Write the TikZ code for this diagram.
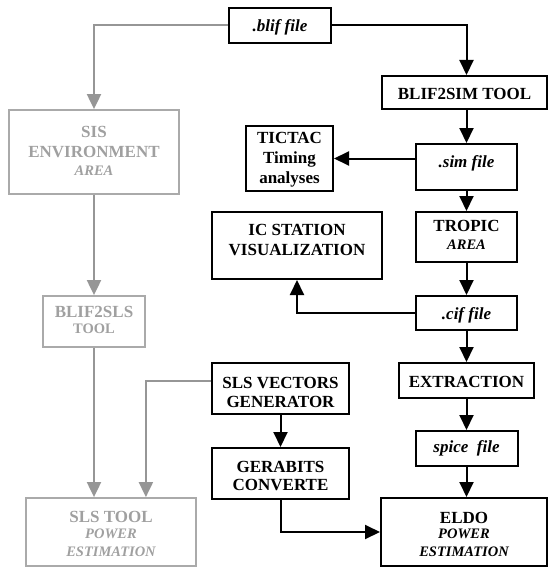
\documentclass[tikz,border=0pt]{standalone}
\usepackage{fontspec}
\setmainfont{Liberation Serif}
\usetikzlibrary{arrows.meta}
\definecolor{lgray}{RGB}{150,150,150}
\definecolor{bgray}{RGB}{170,170,170}
\definecolor{tgray}{RGB}{160,160,160}
\begin{document}
\begin{tikzpicture}[x=1pt,y=-1pt,
  bbox/.style={draw=black,line width=2pt,inner sep=0pt},
  gbox/.style={draw=bgray,line width=1.8pt,inner sep=0pt},
  big/.style={font=\fontsize{17}{20}\selectfont\bfseries,inner sep=0pt,anchor=base},
  sub/.style={font=\fontsize{14.5}{17}\selectfont\bfseries\itshape,inner sep=0pt,anchor=base},
  subup/.style={font=\fontsize{14.5}{17}\selectfont\bfseries,inner sep=0pt,anchor=base},
  fil/.style={font=\fontsize{17}{20}\selectfont\bfseries\itshape,inner sep=0pt,anchor=base},
  gt/.style={text=tgray},
  barr/.style={draw=black,line width=2pt,-{Triangle[length=15pt,width=14pt]}},
  garr/.style={draw=lgray,line width=2pt,-{Triangle[length=15pt,width=14pt]}},
  bline/.style={draw=black,line width=2pt}
]
\useasboundingbox (0,0) rectangle (548,567);
% boxes
\node[bbox,minimum width=102pt,minimum height=35pt] (blif) at (280,25.5) {};
\node[gbox,minimum width=170pt,minimum height=84pt] (sis) at (94,152) {};
\node[bbox,minimum width=165pt,minimum height=33pt] (b2sim) at (464.5,92.5) {};
\node[bbox,minimum width=101pt,minimum height=46pt] (sim) at (466.5,167) {};
\node[bbox,minimum width=87pt,minimum height=65pt] (tictac) at (289.5,158.5) {};
\node[bbox,minimum width=170pt,minimum height=67pt] (ic) at (297,245.5) {};
\node[bbox,minimum width=101pt,minimum height=50pt] (tropic) at (466.5,237) {};
\node[bbox,minimum width=101pt,minimum height=34pt] (cif) at (466.5,313) {};
\node[gbox,minimum width=102pt,minimum height=51pt] (b2sls) at (94,321.5) {};
\node[bbox,minimum width=137pt,minimum height=51pt] (slsvg) at (280.5,388.5) {};
\node[bbox,minimum width=135pt,minimum height=35pt] (extr) at (466.5,380.5) {};
\node[bbox,minimum width=102pt,minimum height=35pt] (spice) at (466.5,448.5) {};
\node[bbox,minimum width=137pt,minimum height=51pt] (gerab) at (280.5,473.5) {};
\node[bbox,minimum width=166pt,minimum height=68pt] (eldo) at (464,532) {};
\node[gbox,minimum width=170pt,minimum height=68pt] (slstool) at (111,532) {};
% texts
\node[fil] (tblif) at (280,32) {.blif file};
\node[big,gt] (tsis1) at (94,137) {SIS};
\node[big,gt] (tsis2) at (94,157) {ENVIRONMENT};
\node[sub,gt] (tsis3) at (94,175) {AREA};
\node[big] (tb2sim) at (464.5,100) {BLIF2SIM TOOL};
\node[fil] (tsim) at (466.5,167) {.sim file};
\node[big] (ttic1) at (289.5,143) {TICTAC};
\node[big] (ttic2) at (289.5,163) {Timing};
\node[big] (ttic3) at (289.5,183) {analyses};
\node[big] (tic1) at (297,235) {IC STATION};
\node[big] (tic2) at (297,255) {VISUALIZATION};
\node[big] (ttro1) at (466.5,231) {TROPIC};
\node[sub] (ttro2) at (466.5,249) {AREA};
\node[fil] (tcif) at (466.5,319) {.cif file};
\node[big,gt] (tbs1) at (94,317) {BLIF2SLS};
\node[subup,gt] (tbs2) at (94,333) {TOOL};
\node[big] (tvg1) at (280.5,388) {SLS VECTORS};
\node[big] (tvg2) at (280.5,407) {GENERATOR};
\node[big] (tex) at (466.5,387) {EXTRACTION};
\node[fil] (tsp) at (466.5,452) {spice\ \ file};
\node[big] (tge1) at (280.5,472) {GERABITS};
\node[big] (tge2) at (280.5,490) {CONVERTE};
\node[big] (tel1) at (464,523) {ELDO};
\node[sub] (tel2) at (464,538.5) {POWER};
\node[sub] (tel3) at (464,556) {ESTIMATION};
\node[big,gt] (tst1) at (111,522) {SLS TOOL};
\node[sub,gt] (tst2) at (111,538.5) {POWER};
\node[sub,gt] (tst3) at (111,556) {ESTIMATION};
% connectors
\draw[garr] (blif.west) -| (sis.north);
\draw[barr] (blif.east) -| (b2sim.north -| sim.north);
\draw[barr] (b2sim.south -| sim.north) -- (sim.north);
\draw[barr] (sim.west |- tictac.east) -- (tictac.east);
\draw[barr] (sim.south) -- (tropic.north);
\draw[barr] (tropic.south) -- (cif.north);
\draw[barr] (cif.west) -| (ic.south);
\draw[barr] (cif.south) -- (extr.north);
\draw[barr] (extr.south) -- (spice.north);
\draw[barr] (spice.south) -- (spice.south |- eldo.north);
\draw[barr] (slsvg.south) -- (gerab.north);
\draw[barr] (gerab.south) |- (eldo.west);
\draw[garr] (sis.south) -- (b2sls.north);
\draw[garr] (b2sls.south) -- (b2sls.south |- slstool.north);
\draw[garr] ([yshift=7.5pt]slsvg.west) -| (b2sls.east |- slstool.north);
\end{tikzpicture}
\end{document}
